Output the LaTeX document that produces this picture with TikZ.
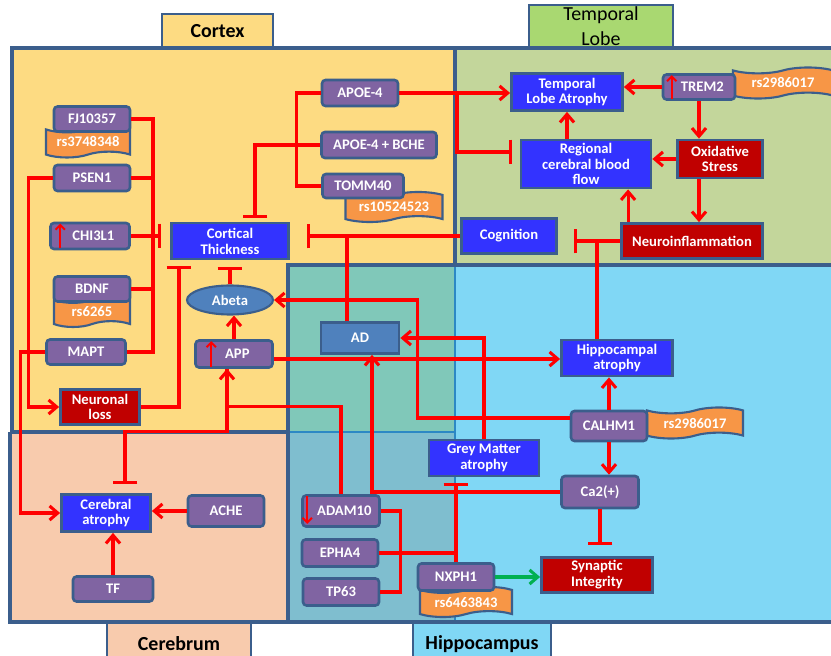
\documentclass[tikz,border=0pt]{standalone}
\usepackage{fontspec}
\setmainfont{Carlito}
\usetikzlibrary{arrows.meta, calc, shapes.geometric, shapes.symbols}

\definecolor{cortexc}{HTML}{FDDB82}
\definecolor{templc}{HTML}{C3D69B}
\definecolor{temptabc}{HTML}{A9D871}
\definecolor{hippoc}{HTML}{80D7F5}
\definecolor{tealc}{HTML}{80C8B9}
\definecolor{cerebc}{HTML}{F8CBAD}
\definecolor{cerhipc}{HTML}{7FBECF}
\definecolor{edgec}{HTML}{3B5E8C}
\definecolor{seamc}{HTML}{2C88C4}
\definecolor{genec}{HTML}{8064A2}
\definecolor{phenoc}{HTML}{3333FF}
\definecolor{alertc}{HTML}{C00000}
\definecolor{snpc}{HTML}{F79646}
\definecolor{adc}{HTML}{4F81BD}
\definecolor{linkc}{HTML}{FF0000}
\definecolor{promc}{HTML}{00B050}

\tikzset{
  wh/.style 2 args={minimum width=#1*0.03cm, minimum height=#2*0.03cm},
  gene/.style={rectangle, rounded corners=3pt, draw=edgec, line width=2.2pt, fill=genec,
    text=white, font=\bfseries\fontsize{12.5}{13.5}\selectfont, inner sep=0pt},
  pheno/.style={rectangle, draw=edgec, line width=2.4pt, fill=phenoc, text=white, align=center,
    font=\bfseries\fontsize{12.5}{13.5}\selectfont, inner sep=0pt},
  alert/.style={pheno, fill=alertc},
  snp/.style={tape, tape bend top=in and out, tape bend bottom=in and out, tape bend height=5pt,
    draw=edgec, line width=1.8pt, fill=snpc, text=white,
    font=\bfseries\fontsize{12.5}{13.5}\selectfont, inner sep=0pt},
  tab/.style={rectangle, draw=edgec, line width=2.4pt, text=black, align=center,
    font=\bfseries\fontsize{17}{20}\selectfont, inner sep=0pt},
  link/.style={draw=linkc, line width=2.6pt},
  act/.style={link, -{Straight Barb[length=7pt, width=12pt]}},
  actg/.style={act, draw=promc},
  inh/.style={link, -{Bar[width=21pt]}},
  updn/.style={draw=linkc, line width=1.6pt, -{Straight Barb[length=4pt, width=8pt]}},
  border/.style={draw=edgec, line width=2.6pt},
  seam/.style={draw=seamc, line width=2pt}
}

\begin{document}
\begin{tikzpicture}[x=0.03cm, y=-0.03cm]
      \useasboundingbox (0,0) rectangle (831,656);

      \fill[cortexc] (12,48) rectangle (455,432);
      \fill[templc] (455,48) rectangle (840,265);
      \fill[hippoc] (288,265) rectangle (840,622);
      \fill[cerebc] (10,432) rectangle (288,622);
      \fill[tealc] (288,265) rectangle (455,432);
      \fill[cerhipc] (288,432) rectangle (455,622);

      \node[tab, fill=cortexc, wh={111}{34}] (cortexTab) at (217.5,31) {Cortex};
      \node[tab, fill=temptabc, wh={144}{42}, font=\fontsize{17}{21}\selectfont] (temporalTab) at (601,26) {Temporal\\Lobe};
      \node[tab, fill=cerebc, wh={144}{44}] (cerebrumTab) at (179,644) {Cerebrum};
      \node[tab, fill=hippoc, wh={138}{44}] (hippoTab) at (482,644) {Hippocampus};

      \draw[seam] (455,265) -- (455,622);
      \draw[seam] (288,432) -- (455,432);
      \draw[border] (12,432) -- (12,48) -- (840,48);
      \draw[border] (455,48) -- (455,265);
      \draw[border] (288,622) -- (288,265) -- (840,265);
      \draw[border] (10,432) -- (288,432);
      \draw[border] (10,432) -- (10,622) -- (840,622);

      \node[snp, wh={84}{31}] (rs3748348) at (88,142) {rs3748348};
      \node[snp, wh={76}{30}] (rs6265) at (92,312) {rs6265};
      \node[snp, wh={97}{30}] (rs10524523) at (394,207) {rs10524523};
      \node[snp, wh={100}{31}] (rsTREM2) at (783,83) {rs2986017};
      \node[snp, wh={96}{31}] (rsCALHM1) at (695,423) {rs2986017};
      \node[snp, wh={92}{30}] (rs6463843) at (466,602) {rs6463843};

      \node[gene, wh={76}{25}] (FJ10357) at (92,119) {FJ10357};
      \node[gene, wh={76}{26}] (PSEN1) at (92,178) {PSEN1};
      \node[gene, wh={79}{26}] (CHI3L1) at (90,236) {\hspace*{2mm}CHI3L1};
      \node[gene, wh={76}{25}] (BDNF) at (92,289) {BDNF};
      \node[gene, wh={79}{25}] (MAPT) at (86,352) {MAPT};
      \node[gene, wh={76}{26}] (APOE4) at (360,93) {APOE-4};
      \node[gene, wh={115}{26}] (BCHE) at (379,145) {APOE-4 + BCHE};
      \node[gene, wh={81}{24}] (TOMM40) at (363,186) {TOMM40};
      \node[gene, wh={77}{27}] (APP) at (234,354) {\hspace*{2mm}APP};
      \node[gene, wh={72}{25}] (TREM2) at (699,87) {\hspace*{2mm}TREM2};
      \node[gene, wh={76}{30}] (CALHM1) at (609,426) {CALHM1};
      \node[gene, wh={77}{32}] (Ca2) at (600,492) {Ca2(+)};
      \node[gene, wh={76}{27}] (NXPH1) at (456,577) {NXPH1};
      \node[gene, wh={77}{31}] (ADAM10) at (341,511) {\hspace*{2mm}ADAM10};
      \node[gene, wh={76}{27}] (EPHA4) at (340,553) {EPHA4};
      \node[gene, wh={76}{27}] (TP63) at (341,592) {TP63};
      \node[gene, wh={76}{31}] (ACHE) at (226,511) {ACHE};
      \node[gene, wh={80}{25}] (TF) at (113,589) {TF};

      \node[pheno, wh={117}{36}] (Cortical) at (230,241) {Cortical\\Thickness};
      \node[pheno, wh={111}{37}] (TLA) at (567,92) {Temporal\\Lobe Atrophy};
      \node[pheno, wh={130}{48}] (RCBF) at (586,164) {Regional\\cerebral blood\\flow};
      \node[pheno, wh={95}{35}] (Cognition) at (509,236) {Cognition};
      \node[pheno, wh={111}{36}] (Hippo) at (617,358) {Hippocampal\\atrophy};
      \node[pheno, wh={110}{36}] (GMA) at (484,458) {Grey Matter\\atrophy};
      \node[pheno, wh={89}{37}] (Cerebral) at (106,513) {Cerebral\\atrophy};
      \node[alert, wh={79}{35}] (Neuronal) at (100,407) {Neuronal\\loss};
      \node[alert, wh={85}{38}] (OxStress) at (720,159) {Oxidative\\Stress};
      \node[alert, wh={141}{35}] (Neuro) at (692,241) {Neuroinflammation};
      \node[alert, wh={111}{35}] (Synaptic) at (597,575) {Synaptic\\Integrity};
      \node[pheno, fill=adc, wh={78}{31}] (AD) at (360,338) {AD};
      \node[ellipse, draw=edgec, line width=1.8pt, fill=adc, text=white, inner sep=0pt,
        font=\bfseries\fontsize{12.5}{13.5}\selectfont, wh={86}{29}] (Abeta) at (230,300) {Abeta};

      \draw[updn] ($(CHI3L1.south west)+(11,-2)$) -- ($(CHI3L1.north west)+(11,2)$);
      \draw[updn] ($(APP.south west)+(17,-2)$) -- ($(APP.north west)+(17,2)$);
      \draw[updn] ($(TREM2.south west)+(10,-2)$) -- ($(TREM2.north west)+(10,2)$);
      \draw[updn] ($(ADAM10.north west)+(6,2)$) -- ($(ADAM10.south west)+(6,-4)$);

      \coordinate (ctBus) at (153,236);
      \draw[link] (FJ10357.east) -| (ctBus);
      \draw[link] (PSEN1.east) -| (ctBus);
      \draw[link] (BDNF.east) -| (ctBus);
      \draw[link] (MAPT.east) -| (ctBus);
      \draw[inh, shorten >=0.27cm] (CHI3L1.east) -- (CHI3L1.east -| Cortical.west);
      \draw[act] (PSEN1.west) -- ++(-24,0) |- (Neuronal.west);
      \draw[act] (MAPT.west) -- ++(-25,0) |- (Cerebral.west);
      \coordinate (ctLow) at (179,259);
      \draw[inh, shorten >=0.21cm] (Neuronal.east) -| (ctLow);
      \draw[inh, shorten >=0.21cm] (Abeta.north) -- (Cortical.south);
      \draw[act] (APP.north) -- (APP.north |- Abeta.south);

      \draw[link] (APOE4.west) -- ++(-24,0) |- (TOMM40.west);
      \coordinate (ctTop) at (255,223);
      \draw[inh, shorten >=0.15cm] (BCHE.west) -| (ctTop);
      \draw[act] (APOE4.east) -- (APOE4.east -| TLA.west);
      \coordinate (tSplit) at (457,93);
      \coordinate (rcIn) at ($(RCBF.west)+(0,-12)$);
      \draw[inh, shorten >=0.24cm] (tSplit) |- (rcIn);
      \draw[act] (TREM2.west) -- (TREM2.west -| TLA.east);
      \draw[act] (RCBF.north -| TLA.south) -- (TLA.south);
      \draw[act] (TREM2.south) -- (TREM2.south |- OxStress.north);
      \draw[act] (OxStress.west) -- (OxStress.west -| RCBF.east);
      \draw[act] (OxStress.south -| TREM2.south) -- (Neuro.north -| TREM2.south);
      \coordinate (nrUp) at ($(Neuro.north west)+(8,0)$);
      \draw[act] (nrUp) -- (nrUp |- RCBF.south);
      \draw[inh, shorten >=0.48cm] (Neuro.west) -- (Neuro.west -| Cognition.east);
      \coordinate (hcUp) at ($(Hippo.north)+(-20,0)$);
      \draw[link] (hcUp) -- (hcUp |- Neuro.west);
      \draw[inh, shorten >=0.5cm] (Cognition.west) -- (Cognition.west -| Cortical.east);
      \coordinate (adUp) at ($(AD.north)+(-13,0)$);
      \draw[link] (adUp) -- (adUp |- Cognition.west);

      \coordinate (appOut) at ($(APP.east)+(0,5)$);
      \draw[act] (appOut) -- (appOut -| Hippo.west);
      \coordinate (caIn) at ($(CALHM1.west)+(0,-8)$);
      \draw[act] (caIn) -- ++(-152,0) |- (Abeta.east);
      \draw[act] (GMA.north) |- (AD.east);
      \coordinate (adIn) at ($(AD.south)+(12,0)$);
      \draw[act] (Ca2.west) -| (adIn);
      \draw[act] (CALHM1.north) -- (CALHM1.north |- Hippo.south);
      \draw[act] (CALHM1.south) -- (CALHM1.south |- Ca2.north);
      \draw[inh, shorten >=0.33cm] (Ca2.south) -- (Ca2.south |- Synaptic.north);
      \draw[actg] (NXPH1.east) -- (NXPH1.east -| Synaptic.west);
      \draw[link] (ADAM10.east) -- ++(20,0) |- (TP63.east);
      \draw[link] (EPHA4.east) -| (NXPH1.north);
      \draw[inh, shorten >=0.18cm] (NXPH1.north) -- (NXPH1.north |- GMA.south);

      \coordinate (appIn) at ($(APP.south)+(-7,0)$);
      \draw[act] (ADAM10.north) |- ($(appIn)+(0,38)$) -- (appIn);
      \coordinate (ceIn) at ($(Cerebral.north)+(19,0)$);
      \draw[inh, shorten >=0.27cm] (appIn) -- ++(0,63) -| (ceIn);
      \draw[act] (ACHE.west) -- (ACHE.west -| Cerebral.east);
      \draw[act] (TF.north) -- (TF.north |- Cerebral.south);
    \end{tikzpicture}
\end{document}
